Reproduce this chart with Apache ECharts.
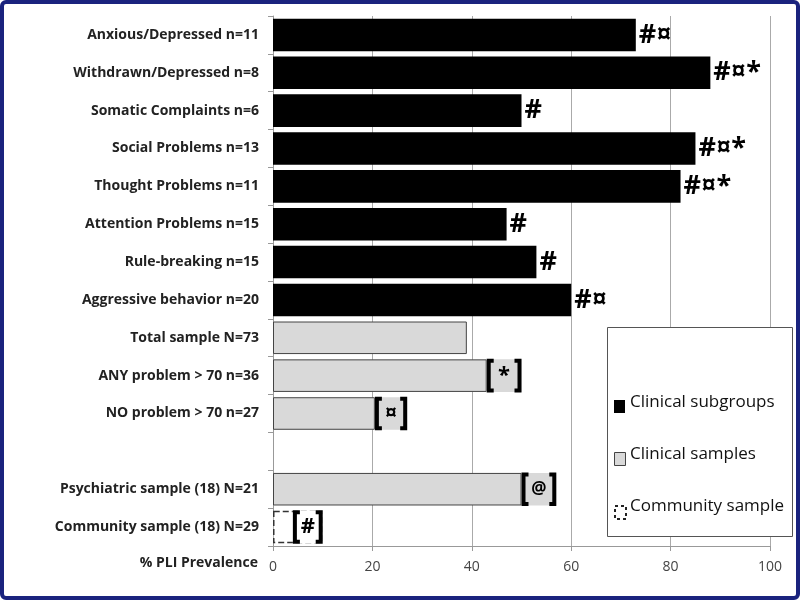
<!DOCTYPE html>
<html><head><meta charset="utf-8">
<script src="https://cdn.jsdelivr.net/npm/echarts@6/dist/echarts.min.js"></script>
<style>html,body{margin:0;padding:0;background:#fff}
#frame{position:absolute;left:0;top:0;width:792px;height:592px;border:4px solid #1a237e;border-radius:6px}
#c{position:absolute;left:0;top:0;width:800px;height:600px}</style></head>
<body><div id="frame"></div><div id="c"></div>
<script>
const categories = ["Anxious/Depressed n=11","Withdrawn/Depressed n=8","Somatic Complaints n=6","Social Problems n=13","Thought Problems n=11","Attention Problems n=15","Rule-breaking n=15","Aggressive behavior n=20","Total sample N=73","ANY problem > 70 n=36","NO problem > 70 n=27","","Psychiatric sample (18) N=21","Community sample (18) N=29"];
const subgroupValues = [73,88,50,85,82,47,53,60,null,null,null,null,null,null];
const subgroupMarks = ["#¤","#¤*","#","#¤*","#¤*","#","#","#¤","","","","","",""];
const sampleValues = [null,null,null,null,null,null,null,null,39,43,20.5,null,50,null];
const communityValues = [null,null,null,null,null,null,null,null,null,null,null,null,null,10];
const intervalRows = [9,10,12,13];
const intervalLow = [43,20.5,50,4];
const intervalHigh = [50,27,57,10];
const intervalMarks = ["*","¤","@","#"];

const chart = echarts.init(document.getElementById('c'));
const font = '"Open Sans", "Liberation Sans", Arial, sans-serif';
const intervalData = intervalRows.map((r,i)=>[r,intervalLow[i],intervalHigh[i],intervalMarks[i]]);
chart.setOption({
  animation:false,
  grid:{left:273,right:30,top:16,bottom:54},
  xAxis:{type:'value',min:0,max:100,interval:20,
    axisLine:{show:true,lineStyle:{color:'#999'}},axisTick:{show:true,lineStyle:{color:'#999'}},
    splitLine:{lineStyle:{color:'#aaa'}},
    axisLabel:{color:'#444',fontSize:14,fontFamily:font,margin:14}},
  yAxis:{type:'category',inverse:true,data:categories,
    axisLine:{show:true,lineStyle:{color:'#999'}},axisTick:{show:true,lineStyle:{color:'#999'}},
    axisLabel:{color:'#222',fontSize:14,fontWeight:'bold',fontFamily:font,margin:14}},
  series:[
    {type:'bar',stack:'a',data:subgroupValues,barCategoryGap:'14%',
      itemStyle:{color:'#000'},
      label:{show:true,position:'right',distance:3,color:'#000',fontSize:27,fontWeight:'bold',fontFamily:font,
        formatter:p=>subgroupMarks[p.dataIndex]}},
    {type:'bar',stack:'a',data:sampleValues,itemStyle:{color:'#d9d9d9',borderColor:'#444',borderWidth:1}},
    {type:'bar',stack:'a',data:communityValues,itemStyle:{color:'#fff',borderColor:'#333',borderWidth:1.5,borderType:'dashed'}},
    {type:'custom',data:intervalData,z:5,
      renderItem:(params,api)=>{
        const row=api.value(0),lo=api.value(1),hi=api.value(2);
        const a=api.coord([lo,row]),b=api.coord([hi,row]);
        const h=api.size([0,1])[1]*0.86, y0=a[1]-h/2, y1=a[1]+h/2;
        const fill = row===13 ? '#fff' : '#d9d9d9';
        const st={stroke:'#000',lineWidth:4,fill:'none'};
        return {type:'group',children:[
          {type:'rect',shape:{x:a[0],y:y0,width:b[0]-a[0],height:h},style:{fill:fill,stroke:null}},
          {type:'polyline',shape:{points:[[a[0]+7,y0+1.5],[a[0]+2,y0+1.5],[a[0]+2,y1-1.5],[a[0]+7,y1-1.5]]},style:st},
          {type:'polyline',shape:{points:[[b[0]-7,y0+1.5],[b[0]-2,y0+1.5],[b[0]-2,y1-1.5],[b[0]-7,y1-1.5]]},style:st},
          {type:'text',style:{x:(a[0]+b[0])/2,y:a[1],text:intervalMarks[params.dataIndex],align:'center',verticalAlign:'middle',
            fontSize:row===12?17:22,fontWeight:'bold',fontFamily:font,fill:'#000'}}
        ]};
      }}
  ],
  graphic:[
    {type:'text',right:800-258,top:556,style:{text:'% PLI Prevalence',fontSize:14,fontWeight:'bold',fontFamily:font,fill:'#222',align:'right'}},
    {type:'rect',left:607,top:327,shape:{width:185,height:209},style:{fill:'#fff',stroke:'#555',lineWidth:1},z:10},
    {type:'rect',left:614,top:400,shape:{width:11,height:13},style:{fill:'#000'},z:11},
    {type:'text',left:630,top:394,style:{text:'Clinical subgroups',fontSize:17,fontFamily:font,fill:'#111'},z:11},
    {type:'rect',left:614,top:452,shape:{width:11,height:13},style:{fill:'#d9d9d9',stroke:'#444',lineWidth:1},z:11},
    {type:'text',left:630,top:446,style:{text:'Clinical samples',fontSize:17,fontFamily:font,fill:'#111'},z:11},
    {type:'rect',left:614,top:505,shape:{width:11,height:13},style:{fill:'#fff',stroke:'#222',lineWidth:2,lineDash:[3,3]},z:11},
    {type:'text',left:630,top:498,style:{text:'Community sample',fontSize:17,fontFamily:font,fill:'#111'},z:11}
  ]
});
</script></body></html>
